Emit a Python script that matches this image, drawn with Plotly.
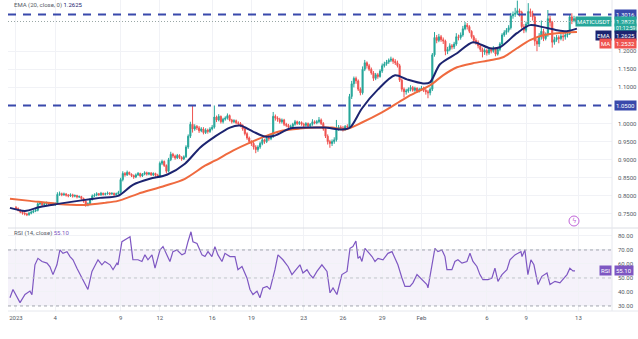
import numpy as np
import pandas as pd
import plotly.graph_objects as go

# ---------------- data (4h candles, MATIC/USDT, Jan 1 - Feb 12 2023) ----------------
close_ = [
 0.765,0.760,0.755,0.752,0.750,0.748,
 0.752,0.755,0.758,0.760,0.778,0.780,
 0.776,0.778,0.780,0.777,0.779,0.776,
 0.778,0.804,0.806,0.803,0.805,0.802,
 0.800,0.803,0.799,0.801,0.797,0.798,
 0.793,0.785,0.775,0.778,0.790,0.800,
 0.802,0.806,0.803,0.807,0.804,0.806,
 0.808,0.805,0.807,0.803,0.806,0.809,
 0.845,0.862,0.858,0.865,0.860,0.856,
 0.852,0.858,0.862,0.855,0.860,0.864,
 0.860,0.863,0.858,0.862,0.857,0.855,
 0.890,0.895,0.884,0.868,0.900,0.915,
 0.910,0.905,0.912,0.906,0.902,0.908,
 0.935,0.965,0.998,0.985,0.992,0.988,
 0.980,0.985,0.975,0.982,0.978,0.985,
 0.990,1.018,1.010,1.020,1.005,1.012,
 1.015,1.022,1.010,1.005,1.008,1.002,
 1.000,0.995,0.985,0.972,0.960,0.950,
 0.945,0.935,0.928,0.935,0.945,0.955,
 0.950,0.960,0.958,0.965,1.020,1.015,
 1.012,1.005,1.010,0.998,0.995,0.990,
 0.992,0.998,1.005,1.000,1.003,0.998,
 0.995,1.000,0.993,0.998,1.005,1.002,
 1.005,1.010,1.000,0.985,0.965,0.950,
 0.945,0.950,0.955,0.985,0.990,0.988,
 0.985,0.992,0.990,1.075,1.110,1.125,
 1.118,1.095,1.085,1.150,1.168,1.160,
 1.150,1.140,1.125,1.135,1.130,1.145,
 1.160,1.165,1.170,1.175,1.178,1.172,
 1.168,1.160,1.120,1.095,1.088,1.090,
 1.095,1.100,1.092,1.098,1.090,1.094,
 1.098,1.092,1.088,1.085,1.095,1.190,
 1.238,1.230,1.240,1.232,1.228,1.200,
 1.205,1.215,1.212,1.220,1.240,1.238,
 1.245,1.262,1.272,1.268,1.255,1.240,
 1.230,1.225,1.215,1.205,1.198,1.202,
 1.195,1.205,1.200,1.208,1.192,1.205,
 1.220,1.245,1.252,1.258,1.265,1.298,
 1.302,1.305,1.312,1.308,1.268,1.258,
 1.275,1.310,1.305,1.295,1.228,1.220,
 1.240,1.255,1.235,1.245,1.290,1.280,
 1.225,1.232,1.238,1.235,1.242,1.240,
 1.245,1.248,1.295,1.285,1.290,1.2822,
]
high_ = [
 0.772,0.768,0.763,0.758,0.755,0.753,
 0.756,0.759,0.761,0.764,0.782,0.785,
 0.783,0.781,0.784,0.783,0.782,0.782,
 0.782,0.810,0.812,0.809,0.809,0.808,
 0.805,0.807,0.806,0.804,0.803,0.801,
 0.800,0.795,0.788,0.782,0.793,0.804,
 0.807,0.810,0.808,0.811,0.809,0.809,
 0.812,0.810,0.810,0.809,0.809,0.814,
 0.850,0.868,0.866,0.870,0.867,0.862,
 0.859,0.862,0.866,0.864,0.863,0.868,
 0.867,0.866,0.866,0.865,0.864,0.861,
 0.895,0.900,0.898,0.887,0.905,0.922,
 0.919,0.914,0.916,0.915,0.910,0.912,
 0.940,0.970,1.005,1.050,0.998,0.996,
 0.993,0.990,0.990,0.987,0.986,0.990,
 0.996,1.050,1.022,1.026,1.022,1.016,
 1.020,1.028,1.025,1.013,1.012,1.011,
 1.006,1.004,0.998,0.988,0.976,0.964,
 0.954,0.949,0.940,0.940,0.950,0.960,
 0.958,0.964,0.965,0.970,1.032,1.025,
 1.020,1.016,1.014,1.013,1.002,0.999,
 0.997,1.002,1.010,1.008,1.007,1.006,
 1.002,1.004,1.003,1.001,1.012,1.009,
 1.010,1.018,1.014,1.004,0.990,0.970,
 0.955,0.956,0.962,1.010,0.996,0.995,
 0.993,0.996,0.998,1.082,1.118,1.130,
 1.130,1.122,1.100,1.158,1.176,1.172,
 1.165,1.155,1.145,1.140,1.140,1.150,
 1.166,1.171,1.176,1.180,1.185,1.182,
 1.178,1.174,1.165,1.125,1.100,1.096,
 1.100,1.106,1.104,1.102,1.100,1.099,
 1.104,1.102,1.096,1.093,1.100,1.195,
 1.253,1.245,1.248,1.245,1.238,1.232,
 1.212,1.222,1.220,1.226,1.250,1.246,
 1.252,1.270,1.281,1.278,1.272,1.258,
 1.245,1.236,1.230,1.220,1.210,1.208,
 1.206,1.212,1.210,1.214,1.210,1.210,
 1.225,1.250,1.258,1.264,1.272,1.306,
 1.310,1.320,1.340,1.318,1.312,1.275,
 1.282,1.333,1.318,1.312,1.300,1.235,
 1.250,1.285,1.262,1.252,1.314,1.298,
 1.284,1.240,1.245,1.244,1.248,1.250,
 1.252,1.258,1.302,1.305,1.298,1.294,
]
low_ = [
 0.762,0.757,0.752,0.748,0.746,0.744,
 0.745,0.749,0.752,0.755,0.757,0.774,
 0.772,0.773,0.775,0.774,0.774,0.772,
 0.772,0.776,0.800,0.799,0.800,0.798,
 0.796,0.797,0.795,0.796,0.793,0.794,
 0.789,0.781,0.770,0.771,0.775,0.787,
 0.797,0.799,0.800,0.800,0.801,0.801,
 0.803,0.802,0.803,0.800,0.801,0.804,
 0.806,0.840,0.853,0.855,0.857,0.852,
 0.847,0.849,0.855,0.851,0.852,0.857,
 0.856,0.857,0.855,0.855,0.853,0.851,
 0.852,0.885,0.880,0.862,0.865,0.896,
 0.905,0.900,0.902,0.902,0.897,0.899,
 0.905,0.930,0.960,0.975,0.980,0.982,
 0.974,0.976,0.970,0.971,0.972,0.974,
 0.981,0.986,1.004,1.006,1.000,1.000,
 1.008,1.011,1.006,1.000,1.001,0.998,
 0.995,0.990,0.980,0.967,0.955,0.944,
 0.938,0.928,0.918,0.922,0.930,0.940,
 0.944,0.946,0.952,0.954,0.960,1.008,
 1.005,1.000,1.000,0.993,0.990,0.985,
 0.985,0.988,0.994,0.996,0.996,0.994,
 0.990,0.992,0.989,0.990,0.994,0.998,
 0.998,1.001,0.996,0.980,0.960,0.942,
 0.933,0.938,0.944,0.950,0.980,0.982,
 0.978,0.980,0.984,0.985,1.068,1.100,
 1.110,1.090,1.078,1.080,1.145,1.152,
 1.145,1.135,1.118,1.120,1.124,1.127,
 1.140,1.155,1.160,1.165,1.170,1.165,
 1.162,1.155,1.115,1.088,1.072,1.080,
 1.085,1.089,1.088,1.088,1.085,1.086,
 1.090,1.087,1.080,1.070,1.078,1.090,
 1.185,1.222,1.225,1.226,1.220,1.189,
 1.192,1.200,1.205,1.206,1.215,1.230,
 1.232,1.240,1.258,1.260,1.250,1.235,
 1.222,1.218,1.208,1.198,1.183,1.190,
 1.188,1.190,1.194,1.196,1.186,1.188,
 1.200,1.215,1.240,1.246,1.252,1.260,
 1.290,1.295,1.300,1.296,1.262,1.250,
 1.252,1.270,1.295,1.285,1.215,1.200,
 1.212,1.232,1.228,1.230,1.240,1.268,
 1.210,1.218,1.226,1.222,1.230,1.228,
 1.232,1.238,1.245,1.275,1.280,1.276,
]
first_open = 0.768

# EMA(20) and MA(50): (days since Jan 1, value)
ema_day = [-0.46,0.69,1.83,3.21,5.28,6.42,7.80,8.94,10.24,11.54,12.92,14.07,15.21,16.36,17.13,
           18.12,19.04,19.80,20.95,22.48,23.62,24.92,25.54,26.45,27.68,28.98,29.89,31.12,31.65,
           32.42,33.72,34.94,36.24,37.00,38.30,39.30,40.29,41.36,42.13,42.89]
ema_val = [0.7667,0.7583,0.7694,0.7778,0.7889,0.7944,0.8000,0.8306,0.8472,0.8583,0.8889,0.9333,
           0.9639,0.9889,0.9944,0.9778,0.9639,0.9667,0.9861,0.9889,0.9889,0.9833,0.9889,1.0417,
           1.0944,1.1333,1.1222,1.1111,1.1139,1.1639,1.1944,1.2250,1.2083,1.2111,1.2500,1.2722,
           1.2667,1.2583,1.2556,1.2625]
ma_day = [-0.46,1.07,3.21,5.28,6.80,7.80,9.33,11.39,12.92,14.45,15.21,16.59,17.89,19.19,20.41,
          21.71,23.01,24.16,25.15,26.45,27.98,29.36,30.12,31.65,32.65,33.72,34.94,36.24,37.23,
          38.30,39.30,40.29,41.36,42.89]
ma_val = [0.7917,0.7861,0.7778,0.7750,0.7806,0.7861,0.8056,0.8278,0.8472,0.8833,0.8972,0.9250,
          0.9472,0.9667,0.9806,0.9861,0.9889,0.9889,0.9833,1.0028,1.0306,1.0611,1.0778,1.1056,
          1.1333,1.1556,1.1667,1.1750,1.1833,1.2083,1.2306,1.2444,1.2500,1.2533]

# RSI(14)
rsi_day = [-0.46,-0.23,0.31,0.69,1.07,1.22,1.45,1.68,1.99,2.37,2.60,2.83,3.13,3.36,3.59,3.90,
           4.13,4.36,4.66,5.05,5.43,5.50,5.81,6.04,6.27,6.57,6.80,7.19,7.42,7.72,7.80,8.10,8.33,
           8.56,8.72,8.94,9.33,9.63,9.86,10.09,10.40,10.63,11.01,11.24,11.54,11.77,12.00,12.31,
           12.69,12.92,13.15,13.38,13.53,13.84,14.22,14.45,14.68,14.98,15.21,15.44,15.75,15.98,
           16.36,16.74,16.97,17.28,17.66,17.89,18.12,18.43,18.65,18.88,19.19,19.42,19.80,20.03,
           20.41,20.80,21.10,21.48,21.71,21.94,22.25,22.48,22.71,23.01,23.39,23.78,24.01,24.24,
           24.54,24.92,25.31,25.54,25.76,25.99,26.15,26.30,26.45,26.68,26.91,27.22,27.45,27.68,
           28.06,28.44,28.75,28.98,29.20,29.51,29.74,30.12,30.35,30.66,31.04,31.42,31.50,31.80,
           32.03,32.26,32.57,32.80,32.95,33.33,33.56,33.79,34.10,34.48,34.71,34.94,35.24,35.47,
           35.70,36.09,36.39,36.62,36.85,37.16,37.54,37.77,38.15,38.38,38.61,38.69,38.91,39.14,
           39.37,39.60,39.91,40.21,40.60,40.83,41.21,41.59,41.82,42.13,42.35,42.58,42.74]
rsi_val = [35.9,41.8,32.4,38.2,40.6,38.0,59.4,64.0,61.8,60.6,58.0,52.4,59.4,70.0,67.6,68.8,
           65.3,63.0,57.0,50.0,43.0,41.8,54.7,59.4,63.0,59.4,61.8,59.4,55.9,60.6,59.4,75.9,77.0,
           78.2,79.4,63.0,63.0,61.8,66.5,63.0,66.5,57.0,70.0,72.4,66.5,61.8,68.8,70.0,
           66.5,67.6,75.9,83.0,75.9,74.7,66.5,65.3,68.8,65.3,72.4,66.5,61.8,67.6,
           65.3,65.3,55.9,58.2,50.0,41.8,38.2,40.6,35.9,42.9,44.0,41.8,55.9,66.5,
           63.0,58.2,52.4,57.0,59.4,53.5,55.9,52.4,50.0,54.7,59.4,54.7,39.4,42.9,
           38.2,52.4,54.7,71.2,72.4,76.4,64.0,65.3,61.8,71.2,68.8,65.3,61.8,64.0,
           63.0,67.6,68.8,64.0,59.4,50.0,44.0,44.0,46.5,52.4,48.8,45.3,42.9,59.4,
           71.2,68.8,70.0,65.3,55.9,55.9,61.8,63.0,60.6,61.8,67.6,61.8,58.2,52.4,
           48.8,48.8,50.0,57.0,47.6,52.4,55.9,63.0,66.5,67.6,68.8,65.3,70.0,52.4,
           63.0,59.4,45.3,51.2,53.5,45.3,47.6,46.5,48.8,52.4,57.0,55.1,55.1]

level_hi = 1.3016
level_lo = 1.0500
last_price = 1.2822
ema_last, ma_last, rsi_last = 1.2625, 1.2532, 55.10

tick_days = [0, 3, 8, 11, 15, 18, 22, 25, 28, 31, 36, 39, 43]
tick_text = ["2023", "4", "9", "12", "16", "19", "23", "26", "29", "Feb", "6", "9", "13"]
price_ticks = [0.75, 0.80, 0.85, 0.90, 0.95, 1.00, 1.10, 1.15, 1.20]
rsi_ticks = [30, 40, 50, 60, 70, 80]

# ---------------- build ----------------
base = pd.Timestamp("2023-01-01")
def to_dt(days):
    return base + pd.to_timedelta(np.asarray(days, dtype=float), unit="D")

t = pd.date_range(base, periods=len(close_), freq="4h")
open_ = [first_open] + close_[:-1]

W, H = 638, 339
ML, MR, MT, MB = 8, 26, 0, 28
PW, PH = W - ML - MR, H - MT - MB
split = (PH - 228) / PH  # boundary between price and RSI panes

def px(x):  # pixel x -> paper
    return (x - ML) / PW
def py(y):  # pixel y -> paper
    return (PH - y) / PH

xr = [base - pd.Timedelta(days=0.61), base + pd.Timedelta(days=45.57)]

FONT = "Roboto"
TXT = "#555a66"
GRID = "#f1f2f6"
GREEN, RED = "#26a69a", "#ef5350"
NAVY, ORANGE, PURPLE, LEVEL = "#1c2470", "#ef6a3f", "#7e57c2", "#3949ab"

fig = go.Figure()
fig.add_trace(go.Candlestick(
    x=t, open=open_, high=high_, low=low_, close=close_,
    increasing=dict(line=dict(color=GREEN, width=1), fillcolor=GREEN),
    decreasing=dict(line=dict(color=RED, width=1), fillcolor=RED),
    whiskerwidth=0, showlegend=False, hoverinfo="skip", xaxis="x", yaxis="y"))
fig.add_trace(go.Scatter(x=to_dt(ma_day), y=ma_val, mode="lines",
                         line=dict(color=ORANGE, width=2, shape="spline", smoothing=0.8),
                         showlegend=False, hoverinfo="skip", xaxis="x", yaxis="y"))
fig.add_trace(go.Scatter(x=to_dt(ema_day), y=ema_val, mode="lines",
                         line=dict(color=NAVY, width=2, shape="spline", smoothing=0.8),
                         showlegend=False, hoverinfo="skip", xaxis="x", yaxis="y"))
fig.add_trace(go.Scatter(x=to_dt(rsi_day), y=rsi_val, mode="lines",
                         line=dict(color=PURPLE, width=1.2),
                         showlegend=False, hoverinfo="skip", xaxis="x2", yaxis="y2"))

tick_dt = to_dt(tick_days)
shapes = [
    dict(type="rect", xref="paper", yref="y2", x0=0, x1=1, y0=30, y1=70,
         fillcolor="rgba(126,87,194,0.08)", line=dict(width=0), layer="below"),
    dict(type="line", xref="paper", yref="y2", x0=0, x1=1, y0=70, y1=70,
         line=dict(color="#a3a6b0", width=1, dash="3px,3px")),
    dict(type="line", xref="paper", yref="y2", x0=0, x1=1, y0=50, y1=50,
         line=dict(color="#c2c4cc", width=1, dash="3px,3px")),
    dict(type="line", xref="paper", yref="y2", x0=0, x1=1, y0=30, y1=30,
         line=dict(color="#a3a6b0", width=1, dash="3px,3px")),
    dict(type="line", xref="paper", yref="y", x0=0, x1=1, y0=last_price, y1=last_price,
         line=dict(color="#9aa7a6", width=1, dash="1px,2px")),
    dict(type="line", xref="paper", yref="y", x0=0, x1=1, y0=level_hi, y1=level_hi,
         line=dict(color=LEVEL, width=2, dash="8px,7px")),
    dict(type="line", xref="paper", yref="y", x0=0, x1=1, y0=level_lo, y1=level_lo,
         line=dict(color=LEVEL, width=2, dash="8px,7px")),
    dict(type="line", xref="paper", yref="paper", x0=0, x1=1.05, y0=split, y1=split,
         line=dict(color="#dcdee4", width=1)),
    dict(type="line", xref="paper", yref="paper", x0=1, x1=1, y0=0, y1=1,
         line=dict(color="#e6e8ee", width=1)),
    dict(type="line", xref="paper", yref="paper", x0=0, x1=1.05, y0=0, y1=0,
         line=dict(color="#e6e8ee", width=1)),
    dict(type="circle", xref="paper", yref="paper",
         x0=px(569), x1=px(579), y0=py(226), y1=py(216),
         line=dict(color="#c065d8", width=1), fillcolor="white"),
]

def tag(text, y, yref, bg, side, size=6, dy=0):
    return dict(text=text, x=1, xref="paper", y=y, yref=yref,
                xanchor="left" if side == "r" else "right",
                xshift=2 if side == "r" else 0, yshift=dy,
                yanchor="middle", showarrow=False, bgcolor=bg, borderpad=1,
                font=dict(family=FONT, size=size, color="white"))

annotations = [
    tag(f"{level_hi:.4f}", level_hi, "y", LEVEL, "r"),
    tag(f"{level_lo:.4f}", level_lo, "y", LEVEL, "r"),
    tag("MATICUSDT", last_price, "y", GREEN, "l"),
    tag(f"{last_price:.4f}", last_price, "y", GREEN, "r"),
    tag("01:12:59", py(27.5), "paper", GREEN, "r", size=5),
    tag("EMA", py(35.5), "paper", NAVY, "l"),
    tag(f"{ema_last:.4f}", py(35.5), "paper", NAVY, "r"),
    tag("MA", py(43.5), "paper", RED, "l"),
    tag(f"{ma_last:.4f}", py(43.5), "paper", RED, "r"),
    tag("RSI", rsi_last, "y2", PURPLE, "l"),
    tag(f"{rsi_last:.2f}", rsi_last, "y2", PURPLE, "r"),
    dict(text=f"EMA (20, close, 0) <span style='color:{NAVY}'>{ema_last:.4f}</span>",
         x=px(12), y=py(5), xref="paper", yref="paper", xanchor="left", yanchor="middle",
         showarrow=False, font=dict(family=FONT, size=6, color=TXT)),
    dict(text=f"RSI (14, close) <span style='color:{PURPLE}'>{rsi_last:.2f}</span>",
         x=px(12), y=py(233), xref="paper", yref="paper", xanchor="left", yanchor="middle",
         showarrow=False, font=dict(family=FONT, size=6, color=TXT)),
    dict(text="ϟ", x=px(574), y=py(221), xref="paper", yref="paper",
         xanchor="center", yanchor="middle", showarrow=False,
         font=dict(family="DejaVu Sans", size=7, color="#c065d8")),
]

fig.update_layout(
    width=W, height=H,
    margin=dict(l=ML, r=MR, t=MT, b=MB),
    paper_bgcolor="white", plot_bgcolor="white",
    font=dict(family=FONT, size=6, color=TXT),
    showlegend=False,
    xaxis=dict(domain=[0, 1], anchor="y", range=xr, tickvals=tick_dt, showticklabels=False,
               showgrid=True, gridcolor=GRID, zeroline=False, showline=False,
               rangeslider=dict(visible=False), ticks=""),
    xaxis2=dict(domain=[0, 1], anchor="y2", range=xr, tickvals=tick_dt, ticktext=tick_text,
                showgrid=True, gridcolor=GRID, zeroline=False, showline=False, ticks="",
                tickfont=dict(family=FONT, size=6, color=TXT), ticklabelstandoff=2),
    yaxis=dict(domain=[split, 1], anchor="x", side="right", range=[0.7111, 1.3417],
               tickvals=price_ticks, tickformat=".4f", showgrid=True, gridcolor=GRID,
               zeroline=False, ticks="", ticklabelstandoff=5,
               tickfont=dict(family=FONT, size=6, color=TXT)),
    yaxis2=dict(domain=[0, split], anchor="x2", side="right", range=[26.4, 85.7],
                tickvals=rsi_ticks, tickformat=".2f", showgrid=True, gridcolor=GRID,
                zeroline=False, ticks="", ticklabelstandoff=5,
                tickfont=dict(family=FONT, size=6, color=TXT)),
    shapes=shapes,
    annotations=annotations,
)

fig.write_html("out.html")
